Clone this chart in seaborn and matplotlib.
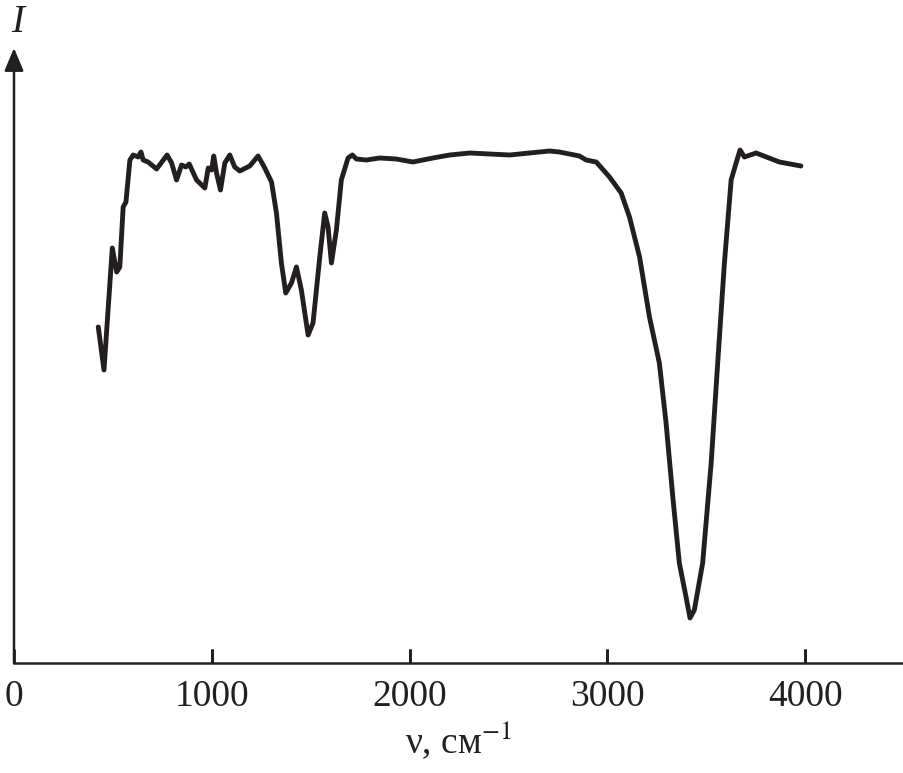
import matplotlib
matplotlib.use("Agg")
import matplotlib.pyplot as plt
import seaborn as sns
import pandas as pd

wavenumber = [426, 455, 497, 519, 535, 552, 566, 586, 603, 628, 642, 653, 678, 721,
              774, 797, 822, 847, 869, 886, 923, 965, 982, 999, 1010, 1024, 1044,
              1066, 1091, 1116, 1142, 1192, 1234, 1268, 1302, 1327, 1352, 1374, 1403,
              1428, 1453, 1487, 1512, 1546, 1571, 1588, 1605, 1630, 1655, 1689, 1711,
              1731, 1782, 1849, 1933, 2017, 2118, 2203, 2304, 2506, 2708, 2758, 2859,
              2893, 2944, 3011, 3070, 3112, 3163, 3213, 3263, 3297, 3331, 3364, 3398,
              3418, 3440, 3482, 3525, 3558, 3592, 3626, 3651, 3671, 3693, 3752, 3870,
              3979]
intensity = [336, 293, 415, 391, 396, 456, 461, 503, 508, 506, 511, 503, 501, 494,
             508, 500, 483, 498, 496, 499, 483, 475, 495, 493, 507, 490, 473,
             500, 508, 496, 492, 497, 507, 495, 481, 450, 400, 370, 380,
             396, 373, 328, 340, 406, 450, 436, 400, 433, 483, 505, 508,
             504, 503, 505, 504, 501, 505, 508, 510, 508, 512, 511, 507,
             503, 501, 486, 470, 446, 406, 346, 300, 240, 166, 100, 66,
             45, 53, 100, 200, 300, 400, 483, 500, 513, 506, 510, 501,
             497]
xticks = [0, 1000, 2000, 3000, 4000]

df = pd.DataFrame({"nu": wavenumber, "I": intensity})

INK = "#231f20"

sns.set_theme(style="white")
plt.rcParams["font.family"] = ["Liberation Serif", "DejaVu Serif"]
plt.rcParams["mathtext.fontset"] = "stix"

fig = plt.figure(figsize=(9.04, 7.73), dpi=100)
ax = fig.add_axes([14 / 904, 110 / 773, 890 / 904, 615 / 773])

sns.lineplot(data=df, x="nu", y="I", sort=False, estimator=None,
             color=INK, linewidth=3.5, ax=ax)

ax.set_xlim(0, 4500)
ax.set_ylim(0, 615)
ax.set_xticks(xticks)
ax.set_xticklabels([str(t) for t in xticks])
ax.set_yticks([])
ax.tick_params(axis="x", direction="in", length=10, width=2.0,
               pad=12, labelsize=27, color=INK, labelcolor=INK,
               bottom=True)
ax.vlines(xticks[1:], 0, 0.023, transform=ax.get_xaxis_transform(),
          color=INK, linewidth=2.0, clip_on=False, zorder=5)
for s in ["top", "right", "left"]:
    ax.spines[s].set_visible(False)
ax.spines["bottom"].set_linewidth(1.8)
ax.spines["bottom"].set_color(INK)

ax.annotate("", xy=(0, 1.0), xytext=(0, 0), xycoords="axes fraction",
            arrowprops=dict(arrowstyle="-|>,head_length=1.0,head_width=0.42",
                            mutation_scale=14, color=INK, lw=1.8,
                            shrinkA=0, shrinkB=0), annotation_clip=False)

ax.set_xlabel("ν, см$^{-1}$", fontsize=27, color=INK, labelpad=4)
ax.set_ylabel("")
fig.text(18 / 904, 1 - 22 / 773, "I", fontsize=28, fontstyle="italic",
         color=INK, ha="center", va="center")

fig.savefig("out.png", dpi=100)
